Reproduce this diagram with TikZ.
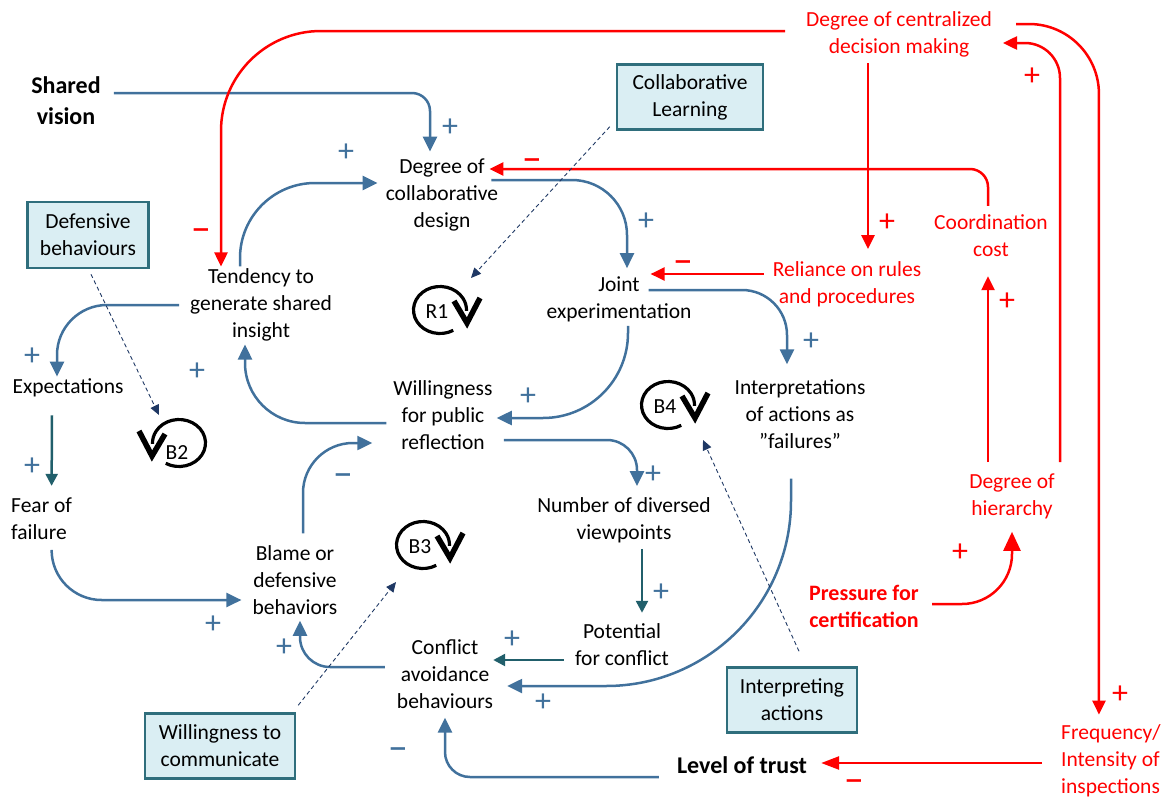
\documentclass[tikz,border=0pt]{standalone}
\usepackage{graphicx}
\usepackage{fontspec}
\setmainfont{Carlito}
\usetikzlibrary{arrows.meta}
\definecolor{lblue}{HTML}{41719C}
\definecolor{lteal}{HTML}{215F6B}
\definecolor{lred}{HTML}{FF0000}
\definecolor{boxfill}{HTML}{DAEEF3}
\definecolor{boxline}{HTML}{2F6E7C}
\definecolor{dashc}{HTML}{1F3864}
\newcommand{\polminus}{\scalebox{1.35}[1]{–}}
\begin{document}
\begin{tikzpicture}[x=1pt,y=-1pt,
  every node/.style={inner sep=2pt, font=\fontsize{21.5}{27}\selectfont, align=center},
  redvar/.style={text=lred},
  boldvar/.style={font=\fontsize{24}{31}\selectfont\bfseries},
  box/.style={draw=boxline, fill=boxfill, line width=2.5pt, inner sep=3pt},
  bl/.style={draw=lblue, line width=2.5pt, -{Triangle[length=15pt,width=14pt]}},
  tl/.style={draw=lteal, line width=2.5pt, -{Triangle[length=12pt,width=12pt]}},
  rl/.style={draw=lred, line width=2.5pt, -{Triangle[length=14pt,width=13pt]}},
  dl/.style={draw=dashc, line width=0.9pt, dash pattern=on 4pt off 3pt, -{Triangle[length=10pt,width=9pt]}},
  loopline/.style={draw=black, line width=3.2pt},
  chev/.style={draw=black, line width=5.5pt, line join=miter, line cap=butt},
  bp/.style={text=lblue, font=\fontsize{32}{32}\selectfont, inner sep=0pt},
  rp/.style={text=lred, font=\fontsize{32}{32}\selectfont, inner sep=0pt},
  bm/.style={text=lblue, font=\fontsize{30}{30}\selectfont\bfseries, inner sep=0pt, yshift=-3.3pt},
  rm/.style={text=lred, font=\fontsize{30}{30}\selectfont\bfseries, inner sep=0pt, yshift=-3.3pt}
]
\useasboundingbox (0,0) rectangle (1168,798);

% variables
\node[boldvar] (sv) at (66,101) {Shared\\vision};
\node[redvar] (cen) at (899,34) {Degree of centralized\\decision making};
\node[box,minimum width=146pt,minimum height=65pt] (cl) at (690,97) {Collaborative\\Learning};
\node (dcd) at (442,195) {Degree of\\collaborative\\design};
\node[box,minimum width=121pt,minimum height=66pt] (db) at (88,235) {Defensive\\behaviours};
\node (tgs) at (261,305) {Tendency to\\generate shared\\insight};
\node[redvar] (cc) at (991,236) {Coordination\\cost};
\node (je) at (619,299) {Joint\\experimentation};
\node[redvar] (rr) at (847,284) {Reliance on rules\\and procedures};
\node (exp) at (68,388) {Expectations};
\node (wpr) at (443,415) {Willingness\\for public\\reflection};
\node (iaf) at (800,414) {Interpretations\\of actions as\\”failures”};
\node[align=left,anchor=west] (ff) at (9,519) {Fear of\\failure};
\node[redvar] (dh) at (1012,496) {Degree of\\hierarchy};
\node (ndv) at (624,520) {Number of diversed\\viewpoints};
\node (bdb) at (295,580) {Blame or\\defensive\\behaviors};
\node[redvar,font=\fontsize{22}{27}\selectfont\bfseries] (pfc) at (864,606) {Pressure for\\certification};
\node (pc) at (622,645) {Potential\\for conflict};
\node (cab) at (445,674) {Conflict\\avoidance\\behaviours};
\node[box,minimum width=130pt,minimum height=65pt] (ia) at (792,700) {Interpreting\\actions};
\node[box,minimum width=150pt,minimum height=65pt] (wtc) at (220,746) {Willingness to\\communicate};
\node[boldvar] (lt) at (742,765) {Level of trust};
\node[redvar,align=left,anchor=west] (fi) at (1059,761) {Frequency/\\Intensity of\\inspections};

% loop labels
\node (r1) at (437,312) {R1};
\node (b2) at (177,453) {B2};
\node (b3) at (420,547) {B3};
\node (b4) at (665,407) {B4};
\foreach \lp in {r1,b3,b4}{
  \draw[loopline] ([shift={(3,-2)},shift={(60:26.5 and 23.5)}]\lp.center) arc[start angle=60,end angle=362,x radius=26.5,y radius=23.5];
  \draw[chev] ([shift={(17,-11)}]\lp.center) -- ([shift={(30,11)}]\lp.center) -- ([shift={(43,-14)}]\lp.center);
}
\draw[loopline] ([shift={(2,-10)},shift={(120:26.5 and 23.5)}]b2.center) arc[start angle=120,end angle=-182,x radius=26.5,y radius=23.5];
\draw[chev] ([shift={(-12,-19)}]b2.center) -- ([shift={(-25,3)}]b2.center) -- ([shift={(-38,-22)}]b2.center);

% blue links
\draw[bl,rounded corners=18pt] ([xshift=11pt,yshift=8pt]sv.east) -| ([xshift=-12pt,yshift=5pt]dcd.north);
\draw[bl,rounded corners=75pt] ([xshift=-21pt]tgs.north) |- ([xshift=-6pt,yshift=12pt]dcd.west);
\draw[bl,rounded corners=55pt] ([xshift=-9pt,yshift=15pt]dcd.east) -| ([xshift=8pt,yshift=6pt]je.north);
\draw[bl,rounded corners=85pt] ([xshift=9pt,yshift=-2pt]je.south) |- ([xshift=2pt,yshift=-3pt]wpr.east);
\draw[bl,rounded corners=60pt] ([xshift=-5pt,yshift=-8pt]wpr.west) -| ([xshift=-16pt,yshift=-1pt]tgs.south);
\draw[bl,rounded corners=50pt] ([xshift=-9pt]tgs.west) -| ([xshift=-11pt]exp.north);
\draw[tl] ([xshift=-16pt,yshift=-16pt]exp.south) -- ([xshift=10pt,yshift=10pt]ff.north);
\draw[bl,rounded corners=50pt] ([xshift=10pt,yshift=-9pt]ff.south) |- ([xshift=-9pt,yshift=-20pt]bdb.west);
\draw[bl,rounded corners=50pt] ([xshift=8pt,yshift=10pt]bdb.north) |- ([xshift=-19pt,yshift=-28pt]wpr.west);
\draw[bl,rounded corners=30pt] ([xshift=-10pt,yshift=7pt]cab.west) -| ([xshift=5pt,yshift=-4pt]bdb.south);
\draw[bl,rounded corners=30pt] ([xshift=9pt,yshift=-25pt]wpr.east) -| ([xshift=13pt,yshift=9pt]ndv.north);
\draw[tl] ([xshift=18pt,yshift=-4pt]ndv.south) -- ([xshift=20pt,yshift=9pt]pc.north);
\draw[tl] ([xshift=-9pt,yshift=-15pt]pc.west) -- ([xshift=-2pt,yshift=14pt]cab.east);
\draw[bl,rounded corners=185pt] ([xshift=-9pt,yshift=-28pt]iaf.south) |- ([xshift=12pt,yshift=-12pt]cab.east);
\draw[bl,rounded corners=25pt] ([xshift=-16pt,yshift=-12pt]lt.west) -| ([yshift=-7pt]cab.south);
\draw[bl,rounded corners=45pt] ([xshift=-45pt,yshift=9pt]je.east) -| ([xshift=-13pt,yshift=13pt]iaf.north);

% red links
\draw[rl,rounded corners=100pt] ([xshift=-19pt,yshift=3pt]cen.west) -| ([xshift=-40pt]tgs.north);
\draw[rl,rounded corners=70pt] ([xshift=22pt,yshift=10pt]cen.east) -| ([xshift=-12pt,yshift=8pt]fi.north);
\draw[rl,rounded corners=35pt] ([xshift=48pt,yshift=9pt]dh.north) |- ([xshift=9pt,yshift=-9pt]cen.east);
\draw[rl] ([xshift=-24pt,yshift=9pt]dh.north) -- ([xshift=-3pt,yshift=-17pt]cc.south);
\draw[rl,rounded corners=18pt] ([xshift=-3pt,yshift=7pt]cc.north) |- ([xshift=-11pt,yshift=26pt]dcd.east);
\draw[rl] ([xshift=-31pt,yshift=-4pt]cen.south) -- ([xshift=21pt,yshift=10pt]rr.north);
\draw[rl] ([xshift=-7pt,yshift=10pt]rr.west) -- ([xshift=-43pt,yshift=25pt]je.east);
\draw[rl,-{Triangle[length=18pt,width=13pt]}] ([xshift=-17pt,yshift=-2pt]fi.west) -- ([xshift=12pt,yshift=2pt]lt.east);
\draw[rl,rounded corners=50pt,-{Triangle[length=19pt,width=17pt]}] ([xshift=11pt,yshift=2pt]pfc.east) -| ([yshift=-11pt]dh.south);

% dashed links
\draw[dl] ([shift={(-6,-4)}]cl.south west) -- ([shift={(34,-34)}]r1.center);
\draw[dl] ([shift={(3,5)}]db.south) -- ([shift={(-18,-38)}]b2.center);
\draw[dl] ([shift={(2,-7)}]wtc.north east) -- ([shift={(-24,35)}]b3.center);
\draw[dl] ([shift={(7,-15)}]ia.north) -- ([shift={(38,33)}]b4.center);

% polarity signs
\node[bp] (p1) at (450,128) {+};
\node[bp] (p2) at (346,153) {+};
\node[bp] (p3) at (646,222) {+};
\node[bp] (p4) at (811,342) {+};
\node[bp] (p5) at (528,397) {+};
\node[bp] (p6) at (197,372) {+};
\node[bp] (p7) at (32,357) {+};
\node[bp] (p8) at (32,467) {+};
\node[bp] (p9) at (653,475) {+};
\node[bp] (p10) at (661,593) {+};
\node[bp] (p11) at (512,640) {+};
\node[bp] (p12) at (543,703) {+};
\node[bp] (p13) at (213,625) {+};
\node[bp] (p14) at (284,648) {+};
\node[bm] (m1) at (343,475) {\polminus};
\node[bm] (m2) at (398,749) {\polminus};
\node[rp] (p15) at (887,223) {+};
\node[rp] (p16) at (1032,77) {+};
\node[rp] (p17) at (1007,302) {+};
\node[rp] (p18) at (960,553) {+};
\node[rp] (p19) at (1120,695) {+};
\node[rm] (m3) at (201,230) {\polminus};
\node[rm] (m4) at (532,160) {\polminus};
\node[rm] (m5) at (683,262) {\polminus};
\node[rm] (m6) at (854,781) {\polminus};
\end{tikzpicture}
\end{document}
